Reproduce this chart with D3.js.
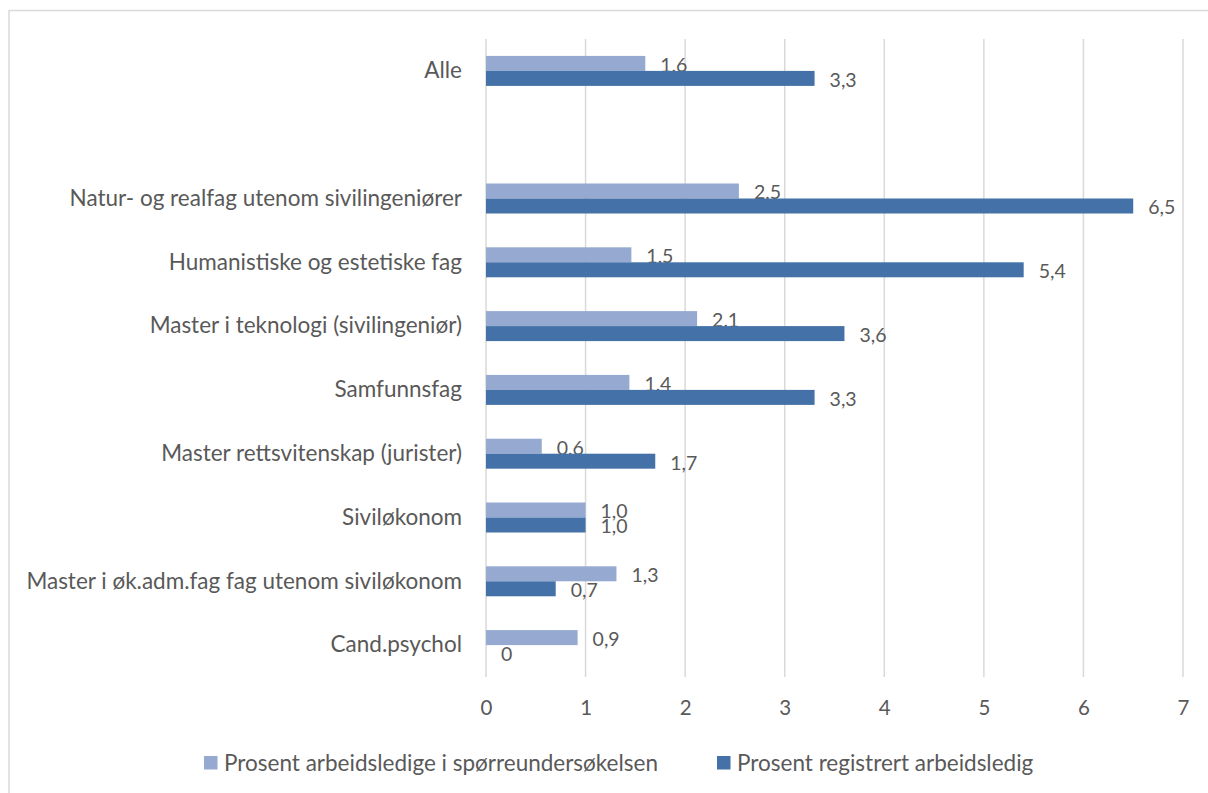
<!DOCTYPE html>
<html>
<head>
<meta charset="utf-8">
<script src="https://cdn.jsdelivr.net/npm/d3@7"></script>
<style>
  html, body { margin: 0; padding: 0; background: #fff; }
  svg { display: block; font-family: Lato, "Open Sans", sans-serif; }
</style>
</head>
<body>
<svg id="chart" width="1208" height="793"></svg>
<script>
const categories = [
  "Alle",
  "",
  "Natur- og realfag utenom sivilingeniører",
  "Humanistiske og estetiske fag",
  "Master i teknologi (sivilingeniør)",
  "Samfunnsfag",
  "Master rettsvitenskap (jurister)",
  "Siviløkonom",
  "Master i øk.adm.fag fag utenom siviløkonom",
  "Cand.psychol"
];
const seriesNames = ["Prosent arbeidsledige i spørreundersøkelsen", "Prosent registrert arbeidsledig"];
const surveyValues = [1.6, null, 2.54, 1.46, 2.12, 1.44, 0.56, 1.0, 1.31, 0.92];
const registeredValues = [3.3, null, 6.5, 5.4, 3.6, 3.3, 1.7, 1.0, 0.7, 0];
const xTicks = [0, 1, 2, 3, 4, 5, 6, 7];

const colors = ["#95a9d1", "#4472a8"];
const textColor = "#595959";
const gridColor = "#d9d9d9";

const svg = d3.select("#chart");

// outer border
svg.append("rect")
  .attr("x", 9).attr("y", 10.5)
  .attr("width", 1300).attr("height", 900)
  .attr("fill", "none").attr("stroke", gridColor).attr("stroke-width", 1.5);

const plot = { left: 486, right: 1183, top: 39, bottom: 677 };

const x = d3.scaleLinear().domain([0, 7]).range([plot.left, plot.right]);
const p = 0.53;
const y = d3.scaleBand().domain(d3.range(categories.length))
  .range([plot.top, plot.bottom]).paddingInner(p).paddingOuter(p / 2);
const ySub = d3.scaleBand().domain([0, 1]).range([0, y.bandwidth()]);

// grid
svg.append("g").selectAll("line").data(xTicks).join("line")
  .attr("x1", d => x(d)).attr("x2", d => x(d))
  .attr("y1", plot.top).attr("y2", plot.bottom)
  .attr("stroke", gridColor).attr("stroke-width", 1.5);

// x axis labels
const xAxis = d3.axisBottom(x).tickValues(xTicks).tickSize(0).tickPadding(0)
  .tickFormat(d => String(d));
const xg = svg.append("g").attr("transform", `translate(0,708)`).call(xAxis);
xg.select(".domain").remove();
xg.selectAll("text").attr("fill", textColor).attr("font-size", 20.5)
  .attr("font-family", "Lato, sans-serif").attr("y", 0).attr("dy", "0.35em");

// category labels
const yAxis = d3.axisLeft(y).tickSize(0).tickPadding(24).tickFormat(i => categories[i]);
const yg = svg.append("g").attr("transform", `translate(${plot.left},0)`).call(yAxis);
yg.select(".domain").remove();
yg.selectAll("text").attr("fill", textColor).attr("font-size", 22.5)
  .attr("font-family", "Lato, sans-serif");

const fmt = v => d3.format(".1f")(v).replace(".", ",");

const series = [surveyValues, registeredValues];
series.forEach((vals, s) => {
  const g = svg.append("g");
  const data = vals.map((v, i) => ({ v, i })).filter(d => d.v !== null);
  g.selectAll("rect").data(data).join("rect")
    .attr("x", x(0))
    .attr("y", d => y(d.i) + ySub(s))
    .attr("width", d => x(d.v) - x(0))
    .attr("height", ySub.bandwidth())
    .attr("fill", colors[s]);
  g.selectAll("text").data(data).join("text")
    .attr("x", d => x(d.v) + 15)
    .attr("y", d => y(d.i) + ySub(s) + ySub.bandwidth() / 2 + 1.5)
    .attr("dy", "0.35em")
    .attr("fill", textColor)
    .attr("font-size", 19.5)
    .text(d => d.v === 0 ? "0" : fmt(d.v));
});

// legend
const legendItems = [
  { x: 204, name: seriesNames[0], color: colors[0] },
  { x: 717, name: seriesNames[1], color: colors[1] }
];
const lg = svg.append("g").selectAll("g").data(legendItems).join("g")
  .attr("transform", d => `translate(${d.x},756)`);
lg.append("rect").attr("width", 13.5).attr("height", 13.5).attr("fill", d => d.color);
lg.append("text").attr("x", 20).attr("y", 7).attr("dy", "0.35em")
  .attr("fill", textColor).attr("font-size", 22.5).text(d => d.name);
</script>
</body>
</html>
